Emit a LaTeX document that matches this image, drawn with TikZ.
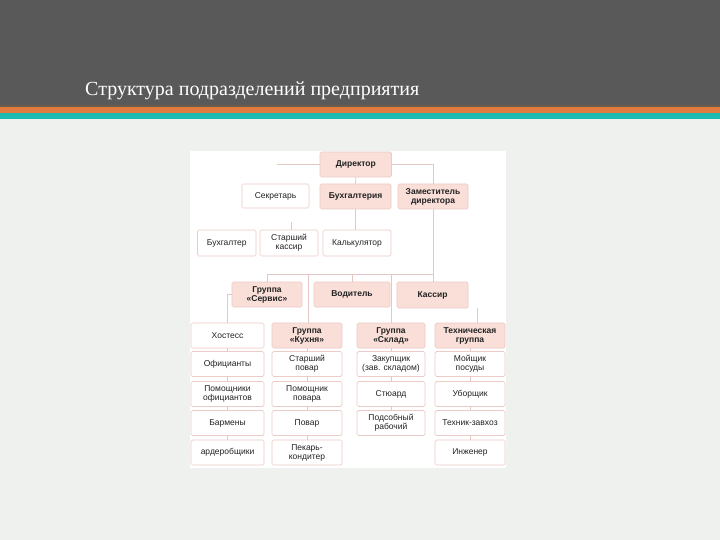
\documentclass[tikz,border=0pt]{standalone}
\usepackage{fontspec}
\setmainfont{Liberation Sans}
\newfontfamily\titlefont{Liberation Serif}
\definecolor{slidebg}{HTML}{EFF1EE}
\definecolor{band}{HTML}{595959}
\definecolor{bandedge}{HTML}{6B5A4E}
\definecolor{orangestripe}{HTML}{E07A3E}
\definecolor{tealstripe}{HTML}{1DBAB3}
\definecolor{pinkf}{HTML}{F9DFD8}
\definecolor{boxline}{HTML}{EBCBC5}
\definecolor{conn}{HTML}{E3C8C3}
\definecolor{textc}{HTML}{222222}
\tikzset{
  box/.style={draw=boxline, line width=0.7pt, rounded corners=1.5pt, minimum height=25pt,
    inner sep=1pt, align=center, text=textc, font=\fontsize{8.5}{9}\selectfont},
  pbox/.style={box, fill=pinkf, font=\fontsize{8.5}{9}\selectfont\bfseries},
  wbox/.style={box, fill=white},
  link/.style={draw=conn, line width=0.7pt}
}
\begin{document}
\begin{tikzpicture}[x=1pt,y=-1pt]
\useasboundingbox (0,0) rectangle (720,540);
% background
\fill[slidebg] (0,0) rectangle (720,540);
\fill[band] (0,0) rectangle (720,106);
\fill[bandedge] (0,105) rectangle (720,107.5);
\fill[orangestripe] (0,107.5) rectangle (720,113);
\fill[tealstripe] (0,113) rectangle (720,119.5);
\node[anchor=base west, text=white, font=\titlefont\fontsize{20}{23}\selectfont, inner sep=0pt] (title) at (85,96) {Структура подразделений предприятия};
% picture area
\fill[white] (190,151) rectangle (506,468);

% row 0-1
\node[pbox, minimum width=71.5pt] (dir) at (355.75,164.5) {Директор};
\node[wbox, minimum width=67pt, minimum height=24pt] (sec) at (275.5,196) {Секретарь};
\node[pbox, minimum width=71pt] (buh) at (355.5,196.5) {Бухгалтерия};
\node[pbox, minimum width=70pt] (zam) at (433,196.5) {Заместитель\\директора};
% row 2
\node[wbox, minimum width=58.5pt, minimum height=26pt] (bg) at (226.75,243) {Бухгалтер};
\node[wbox, minimum width=58pt, minimum height=26pt] (skas) at (289,243) {Старший\\кассир};
\node[wbox, minimum width=68pt, minimum height=26pt] (kalk) at (357,243) {Калькулятор};
% row 3
\node[pbox, minimum width=70pt] (serv) at (267,294.5) {Группа\\«Сервис»};
\node[pbox, minimum width=76pt] (vod) at (352,294.5) {Водитель};
\node[pbox, minimum width=71pt, minimum height=26pt] (kas) at (432.5,295) {Кассир};
% row 4
\node[wbox, minimum width=73pt] (host) at (227.5,335.5) {Хостесс};
\node[pbox, minimum width=70pt] (kuh) at (307,335.5) {Группа\\«Кухня»};
\node[pbox, minimum width=68pt] (skl) at (391,335.5) {Группа\\«Склад»};
\node[pbox, minimum width=70pt] (teh) at (470,335.5) {Техническая\\группа};
% column 1
\node[wbox, minimum width=73pt] (c1a) at (227.5,364) {Официанты};
\node[wbox, minimum width=73pt] (c1b) at (227.5,394) {Помощники\\официантов};
\node[wbox, minimum width=73pt] (c1c) at (227.5,423) {Бармены};
\node[wbox, minimum width=73pt] (c1d) at (227.5,452.5) {ардеробщики};
% column 2
\node[wbox, minimum width=70pt] (c2a) at (307,364) {Старший\\повар};
\node[wbox, minimum width=70pt] (c2b) at (307,394) {Помощник\\повара};
\node[wbox, minimum width=70pt] (c2c) at (307,423) {Повар};
\node[wbox, minimum width=70pt] (c2d) at (307,452.5) {Пекарь-\\кондитер};
% column 3
\node[wbox, minimum width=68pt] (c3a) at (391,364) {Закупщик\\(зав. складом)};
\node[wbox, minimum width=68pt] (c3b) at (391,394) {Стюард};
\node[wbox, minimum width=68pt] (c3c) at (391,423) {Подсобный\\рабочий};
% column 4
\node[wbox, minimum width=70pt] (c4a) at (470,364) {Мойщик\\посуды};
\node[wbox, minimum width=70pt] (c4b) at (470,394) {Уборщик};
\node[wbox, minimum width=70pt] (c4c) at (470,423) {Техник-завхоз};
\node[wbox, minimum width=70pt] (c4d) at (470,452.5) {Инженер};

% connectors
\coordinate (stubL) at (277,164.5);
\coordinate (stubS) at (291.5,222);
\coordinate (busL) at (267,274);
\coordinate (busR) at (433,274);
\coordinate (stubT) at (477,308);
\draw[link] (dir.west) -- (stubL);
\draw[link] (dir.east) -| (zam.north);
\draw[link] (dir.south) -- (buh.north);
\draw[link] (buh.south) -- (buh.south |- kalk.north);
\draw[link] (stubS) -- (stubS |- skas.north);
\draw[link] (zam.south) -- (zam.south |- kas.north);
\draw[link] (busL) -- (busR);
\draw[link] (busL) -- (serv.north);
\draw[link] (busL -| 308,0) -- (kuh.north -| 308,0);
\draw[link] (busL -| vod.north) -- (vod.north);
\draw[link] (busL -| 391.5,0) -- (skl.north -| 391.5,0);
\draw[link] (serv.west) -| (host.north);
\draw[link] (stubT) -- (stubT |- teh.north);
\foreach \a/\b in {host/c1a,c1a/c1b,c1b/c1c,c1c/c1d,kuh/c2a,c2a/c2b,c2b/c2c,c2c/c2d,skl/c3a,c3a/c3b,c3b/c3c,teh/c4a,c4a/c4b,c4b/c4c,c4c/c4d}
  \draw[link] (\a.south) -- (\b.north);
\end{tikzpicture}
\end{document}
